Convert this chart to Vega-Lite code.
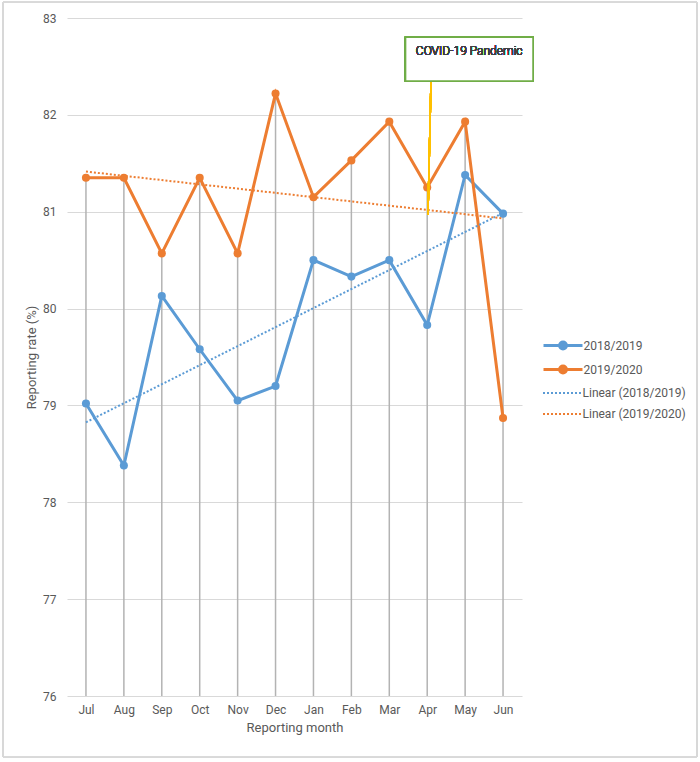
{
  "$schema": "https://vega.github.io/schema/vega-lite/v6.json",
  "autosize": {"type": "none"},
  "padding": {"left": 67, "top": 18, "right": 178, "bottom": 66},
  "width": 455,
  "height": 678,
  "background": "white",
  "config": {
    "font": "Roboto",
    "view": {"stroke": null},
    "axis": {"labelColor": "#595959", "titleColor": "#595959", "labelFontSize": 12, "titleFontSize": 13, "titleFontWeight": "normal", "labelFont": "Roboto", "titleFont": "Roboto"},
    "legend": {"labelFontSize": 12, "labelColor": "#595959", "labelFont": "Roboto"}
  },
  "data": {
    "values": [
      {"month": "Jul", "idx": 0, "season": "2018/2019", "trend": "Linear (2018/2019)", "rate": 79.02},
      {"month": "Aug", "idx": 1, "season": "2018/2019", "trend": "Linear (2018/2019)", "rate": 78.38},
      {"month": "Sep", "idx": 2, "season": "2018/2019", "trend": "Linear (2018/2019)", "rate": 80.13},
      {"month": "Oct", "idx": 3, "season": "2018/2019", "trend": "Linear (2018/2019)", "rate": 79.58},
      {"month": "Nov", "idx": 4, "season": "2018/2019", "trend": "Linear (2018/2019)", "rate": 79.05},
      {"month": "Dec", "idx": 5, "season": "2018/2019", "trend": "Linear (2018/2019)", "rate": 79.20},
      {"month": "Jan", "idx": 6, "season": "2018/2019", "trend": "Linear (2018/2019)", "rate": 80.50},
      {"month": "Feb", "idx": 7, "season": "2018/2019", "trend": "Linear (2018/2019)", "rate": 80.33},
      {"month": "Mar", "idx": 8, "season": "2018/2019", "trend": "Linear (2018/2019)", "rate": 80.50},
      {"month": "Apr", "idx": 9, "season": "2018/2019", "trend": "Linear (2018/2019)", "rate": 79.83},
      {"month": "May", "idx": 10, "season": "2018/2019", "trend": "Linear (2018/2019)", "rate": 81.38},
      {"month": "Jun", "idx": 11, "season": "2018/2019", "trend": "Linear (2018/2019)", "rate": 80.98},
      {"month": "Jul", "idx": 0, "season": "2019/2020", "trend": "Linear (2019/2020)", "rate": 81.35},
      {"month": "Aug", "idx": 1, "season": "2019/2020", "trend": "Linear (2019/2020)", "rate": 81.35},
      {"month": "Sep", "idx": 2, "season": "2019/2020", "trend": "Linear (2019/2020)", "rate": 80.57},
      {"month": "Oct", "idx": 3, "season": "2019/2020", "trend": "Linear (2019/2020)", "rate": 81.35},
      {"month": "Nov", "idx": 4, "season": "2019/2020", "trend": "Linear (2019/2020)", "rate": 80.57},
      {"month": "Dec", "idx": 5, "season": "2019/2020", "trend": "Linear (2019/2020)", "rate": 82.22},
      {"month": "Jan", "idx": 6, "season": "2019/2020", "trend": "Linear (2019/2020)", "rate": 81.15},
      {"month": "Feb", "idx": 7, "season": "2019/2020", "trend": "Linear (2019/2020)", "rate": 81.53},
      {"month": "Mar", "idx": 8, "season": "2019/2020", "trend": "Linear (2019/2020)", "rate": 81.93},
      {"month": "Apr", "idx": 9, "season": "2019/2020", "trend": "Linear (2019/2020)", "rate": 81.25},
      {"month": "May", "idx": 10, "season": "2019/2020", "trend": "Linear (2019/2020)", "rate": 81.93},
      {"month": "Jun", "idx": 11, "season": "2019/2020", "trend": "Linear (2019/2020)", "rate": 78.87}
    ]
  },
  "encoding": {
    "x": {
      "field": "idx", "type": "quantitative",
      "scale": {"domain": [-0.5, 11.5], "nice": false, "zero": false},
      "axis": {
        "title": "Reporting month",
        "values": [0, 1, 2, 3, 4, 5, 6, 7, 8, 9, 10, 11],
        "labelExpr": "['Jul','Aug','Sep','Oct','Nov','Dec','Jan','Feb','Mar','Apr','May','Jun'][datum.value]",
        "grid": false, "ticks": false, "tickSize": 0, "domain": false,
        "labelPadding": 8, "titlePadding": 6
      }
    },
    "y": {
      "field": "rate", "type": "quantitative",
      "scale": {"domain": [76, 83], "nice": false, "zero": false},
      "axis": {
        "title": "Reporting rate (%)",
        "values": [76, 77, 78, 79, 80, 81, 82, 83],
        "grid": true, "gridColor": "#d9d9d9", "gridWidth": 1,
        "ticks": false, "tickSize": 0, "domain": false,
        "labelPadding": 11, "titlePadding": 4
      }
    }
  },
  "layer": [
    {
      "mark": {"type": "rect", "fill": null, "fillOpacity": 0, "stroke": "#d9d9d9", "strokeWidth": 1, "clip": false},
      "encoding": {
        "x": {"datum": -2.188}, "x2": {"datum": 16.115},
        "y": {"datum": 83.165}, "y2": {"datum": 75.37}
      }
    },
    {
      "transform": [{"aggregate": [{"op": "max", "field": "rate", "as": "top"}], "groupby": ["idx"]}],
      "mark": {"type": "rule", "color": "#b3b3b3", "strokeWidth": 1.5},
      "encoding": {
        "y": {"field": "top", "type": "quantitative"},
        "y2": {"datum": 76}
      }
    },
    {
      "mark": {"type": "line", "strokeWidth": 3, "point": {"filled": true, "size": 65}},
      "encoding": {
        "color": {
          "field": "season", "type": "nominal",
          "scale": {"domain": ["2018/2019", "2019/2020"], "range": ["#5B9BD5", "#ED7D31"]},
          "legend": {
            "title": null, "orient": "none", "legendX": 484.5, "legendY": 316,
            "symbolType": "M-2,0L2,0M0.35,0A0.35,0.35,0,1,1,-0.35,0A0.35,0.35,0,1,1,0.35,0Z",
            "symbolSize": 380, "symbolStrokeWidth": 3,
            "labelOffset": 9, "rowPadding": 3
          }
        }
      }
    },
    {
      "transform": [{"regression": "rate", "on": "idx", "groupby": ["trend"], "method": "linear", "extent": [0, 11]}],
      "mark": {"type": "line", "strokeWidth": 2, "strokeDash": [2, 2]},
      "encoding": {
        "stroke": {
          "field": "trend", "type": "nominal",
          "scale": {"domain": ["Linear (2018/2019)", "Linear (2019/2020)"], "range": ["#5B9BD5", "#ED7D31"]},
          "legend": {
            "title": null, "orient": "none", "legendX": 484.5, "legendY": 364,
            "symbolType": "M-2,0L2,0", "symbolSize": 380, "symbolStrokeWidth": 2,
            "symbolDash": [2, 2],
            "labelOffset": 9, "rowPadding": 4
          }
        }
      }
    },
    {
      "mark": {"type": "rule", "color": "#FFC000", "strokeWidth": 1.5},
      "encoding": {
        "x": {"datum": 9.1}, "y": {"datum": 82.35},
        "x2": {"datum": 9.02}, "y2": {"datum": 80.97}
      }
    },
    {
      "mark": {"type": "rect", "fill": "white", "stroke": "#70AD47", "strokeWidth": 1.5, "clip": false},
      "encoding": {
        "x": {"datum": 8.43}, "x2": {"datum": 11.79},
        "y": {"datum": 82.8}, "y2": {"datum": 82.35}
      }
    },
    {
      "mark": {"type": "text", "text": "COVID-19 Pandemic", "align": "left", "baseline": "middle", "fontSize": 12, "fontWeight": 300, "color": "#404040", "font": "Roboto"},
      "encoding": {
        "x": {"datum": 8.7}, "y": {"datum": 82.66}
      }
    }
  ]
}
